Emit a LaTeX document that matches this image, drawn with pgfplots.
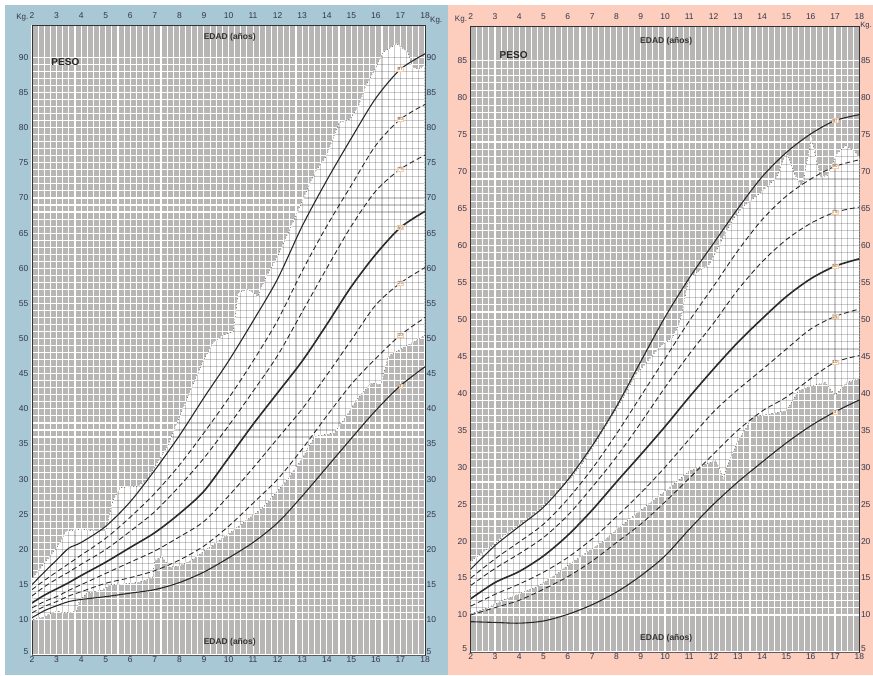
\documentclass[border=0pt]{standalone}
\usepackage{fontspec}
\setmainfont{Liberation Sans}
\usepackage{pgfplots}
\usepackage{pgfplotstable}
\pgfplotsset{compat=1.18}

\definecolor{panelblue}{HTML}{A9C8D5}
\definecolor{panelsalmon}{HTML}{FDCDBD}
\definecolor{plotgray}{HTML}{B8B5B5}
\definecolor{ticktext}{HTML}{33364A}
\definecolor{curve}{HTML}{2A2A2A}

% Boys (left panel)
\pgfplotstableread{
age  p3   p10  p25  p50  p75  p90  p97
2    10.3 11.0 11.7 12.4 13.4 14.3 15.0
2.5  11.3 11.9 12.6 13.5 14.7 15.6 16.8
3    12.0 12.6 13.3 14.4 15.8 16.8 18.5
3.5  12.6 13.4 14.2 15.3 16.8 18.0 20.2
4    12.9 14.0 15.0 16.3 17.9 19.2 21.0
5    13.3 15.2 16.6 18.2 20.0 21.6 23.3
6    13.8 16.0 18.2 20.3 22.6 24.6 26.8
7    14.3 17.0 19.8 22.4 25.4 28.0 31.3
8    15.3 18.5 21.8 25.1 29.0 32.0 36.2
9    16.8 20.5 24.0 28.3 33.0 36.6 41.6
10   18.8 23.3 27.6 33.0 37.6 41.5 46.8
11   21.0 26.6 31.6 37.8 42.5 46.8 52.5
12   23.8 30.0 35.8 42.3 47.6 52.6 58.5
13   27.6 34.3 40.0 46.8 53.8 59.6 66.0
14   31.7 39.0 44.8 52.0 60.0 66.0 72.5
15   35.8 43.5 49.8 57.4 66.0 71.8 78.5
16   39.8 47.2 54.8 62.0 71.0 77.5 84.2
17   43.3 50.5 57.9 65.8 74.1 81.2 88.3
18   46.0 53.0 60.1 68.1 76.1 83.3 90.5
}\boys

% Girls (right panel)
\pgfplotstableread{
age  p3   p10  p25  p50  p75  p90  p97
2    9.1  10.0 11.2 12.2 14.0 15.0 16.2
3    9.0  11.0 12.8 14.4 16.3 17.6 19.4
4    8.9  12.0 14.2 15.9 18.3 19.9 22.0
5    9.2  13.5 15.8 18.0 20.5 22.3 24.6
6    10.1 15.2 17.8 20.8 23.5 25.7 28.3
7    11.4 17.3 20.3 24.2 27.3 29.8 32.9
8    13.1 19.8 23.3 28.0 31.4 34.5 38.2
9    15.3 22.3 26.5 31.7 36.0 39.6 44.3
10   18.0 25.3 30.0 35.5 40.8 44.7 50.3
11   21.6 28.5 33.8 39.5 45.3 49.8 55.6
12   25.0 31.8 37.5 43.3 49.5 54.5 60.3
13   28.0 35.0 40.5 46.9 54.0 59.3 65.0
14   30.7 37.6 43.2 50.1 57.8 63.5 69.3
15   33.3 39.5 46.0 53.1 60.8 66.7 72.6
16   35.6 42.0 48.7 55.5 63.0 69.0 75.1
17   37.5 44.2 50.4 57.2 64.5 70.7 76.9
18   39.1 45.1 51.4 58.2 65.2 71.6 77.7
}\girls

% White (observed) regions, closed polygons
\pgfplotstableread{
x y
2 15.8
2.5 18.0
3 20.2
3.4 22.6
4 22.9
4.6 22.6
5 22.6
5.3 27.0
5.6 28.8
6.3 29.0
6.7 29.8
7 31.8
7.5 34.5
8 38.8
8.5 43.0
9 47.0
9.4 49.5
9.8 50.5
10.2 51.0
10.4 56.5
10.8 57.0
11.2 56.0
11.5 58.5
12 61.7
12.5 65.5
13 69.5
13.5 73.5
14 76.0
14.5 80.7
14.95 81.2
15.3 83.0
15.6 86.0
16 88.5
16.3 90.7
16.85 91.9
17.3 90.7
17.5 88.5
17.7 88.3
18 88.8
18 50.5
17.5 49.5
17 48.5
16.5 47.5
16.2 43.5
15.8 43.7
15.2 41.3
14.8 39.0
14.3 36.6
13.5 36.1
13 33.0
12.4 30.0
11.4 26.0
10.1 22.5
9.5 21.0
9 19.8
8.5 18.5
8 17.7
7.6 17.5
7.3 19.0
7.0 18.5
6.9 16.0
6.5 15.5
6 15.2
5.2 15.0
4.8 14.2
4.2 13.8
3.9 12.5
3.8 11.2
3.3 11.0
3.0 11.3
2.5 10.5
2 10.0
}\boysregion

\pgfplotstableread{
x y
2 17.2
2.5 18.5
3 19.6
3.3 20.6
4 22.2
4.7 23.9
5.4 26.0
6.1 28.4
6.6 30.5
7.2 33.6
7.8 36.8
8.3 39.5
8.8 42.5
9.1 43.6
9.8 46.3
10.3 47.5
10.6 49.4
11.0 55.7
11.4 56.5
11.85 57.5
12.4 61.1
12.8 63.5
13.2 65.2
13.9 67.0
14.6 69.2
15.0 72.6
15.35 69.5
15.65 67.9
16.03 74.4
16.4 69.2
16.7 69.5
17.1 72.5
17.45 73.5
17.8 72.7
18 71.9
18 42.0
17.5 41.5
17.0 39.8
16.6 41.5
16 41.0
15.5 40.4
15 37.7
14.3 37.2
13.6 36.8
12.95 33.2
12.6 30.5
12.4 28.5
12.1 31.0
11 29.5
10.2 27.3
9.5 25.5
8.8 23.7
8 21.6
7.5 20.1
7 19.0
6.1 17.0
5.5 15.5
4.7 13.8
4 12.9
3.3 12.0
2.7 11.0
2 10.2
}\girlsregion

\pgfplotsset{
  base/.style={
    scale only axis, anchor=south west,
    xmin=2, xmax=18, ymin=5,
    xtick={2,...,18},
    minor x tick num=3, minor y tick num=4,
    major tick length=0pt, minor tick length=0pt,
    /pgf/number format/assume math mode=true,
    tick label style={font=\fontsize{8.5}{9}\selectfont, text=ticktext},
    axis line style={draw=black!80, line width=0.9pt},
    clip mode=individual,
    extra y ticks={5},
    extra y tick style={yticklabel style={yshift=3pt}},
  },
  leftgeom/.style={at={(32pt,20pt)}, width=393pt, height=630pt, ymax=94.6, ytick={10,15,...,90}},
  rightgeom/.style={at={(470.7pt,23pt)}, width=388.6pt, height=626pt, ymax=89.7, ytick={10,15,...,85}},
  lowerA/.style={
    axis background/.style={fill=plotgray},
    grid=both,
    grid style={white, line width=1.1pt},
    major grid style={white, line width=1.1pt},
    minor grid style={white, line width=1.1pt},
    xticklabel pos=left, yticklabel pos=left,
    xticklabel style={inner sep=1.5pt},
    yticklabel style={inner sep=1pt, xshift=-2.5pt},
  },
  upperB/.style={
    grid=both,
    grid style={black!80, line width=1.1pt, blend mode=screen},
    major grid style={black!80, line width=1.1pt, blend mode=screen},
    minor grid style={black!80, line width=1.1pt, blend mode=screen},
    xticklabel pos=right, yticklabel pos=right,
    xticklabel style={inner sep=1pt, yshift=5pt},
    yticklabel style={inner sep=1.5pt},
  },
  solidc/.style={smooth, no marks, draw=curve, line width=1.1pt},
  medc/.style={smooth, no marks, draw=curve, line width=1.6pt},
  dashc/.style={smooth, no marks, draw=curve, line width=0.9pt, dash pattern=on 5pt off 3pt},
  edgec/.style={no marks, draw=white, line width=1.1pt, dash pattern=on 1.5pt off 1.5pt},
}
\tikzset{
  plab/.style={font=\fontsize{4.5}{5}\selectfont, text=black!70, fill=white, inner sep=0.4pt, draw=orange!40, line width=0.3pt},
  kglab/.style={font=\fontsize{8}{9}\selectfont, text=ticktext, inner sep=0pt},
}

\begin{document}
\begin{tikzpicture}
\useasboundingbox (0pt,0pt) rectangle (873pt,675pt);
\clip (0pt,0pt) rectangle (873pt,675pt);
\fill[white] (0pt,0pt) rectangle (873pt,675pt);
\fill[panelblue] (5pt,0pt) rectangle (448pt,670pt);
\fill[panelsalmon] (448pt,0pt) rectangle (873pt,670pt);

% ---------- Left panel (boys) ----------
\begin{axis}[base, leftgeom, lowerA, name=L]
\addplot[fill=black, draw=none] table[x=x, y=y] {\boysregion} -- cycle;
\end{axis}
\begin{axis}[base, leftgeom, upperB]
\addplot[fill=white, draw=none, blend mode=difference] table[x=x, y=y] {\boysregion} -- cycle;
\addplot[edgec] table[x=x, y=y] {\boysregion} -- cycle;
\addplot[dashc] table[x=age, y=p10] {\boys};
\addplot[dashc] table[x=age, y=p25] {\boys};
\addplot[dashc] table[x=age, y=p75] {\boys};
\addplot[dashc] table[x=age, y=p90] {\boys};
\addplot[solidc] table[x=age, y=p3] {\boys};
\addplot[medc] table[x=age, y=p50] {\boys};
\addplot[solidc] table[x=age, y=p97] {\boys};
\node[plab] at (axis cs:17,88.3) {97};
\node[plab] at (axis cs:17,81.2) {90};
\node[plab] at (axis cs:17,74.1) {75};
\node[plab] at (axis cs:17,65.8) {50};
\node[plab] at (axis cs:17,57.9) {25};
\node[plab] at (axis cs:17,50.5) {10};
\node[plab] at (axis cs:17,43.3) {3};
\node[font=\bfseries\fontsize{10}{11}\selectfont, text=black!85, anchor=west] at (axis cs:2.65,89.3) {PESO};
\node[font=\bfseries\fontsize{8.5}{9}\selectfont, text=black!80] at (axis cs:10.05,92.8) {EDAD (años)};
\node[font=\bfseries\fontsize{8.5}{9}\selectfont, text=black!80] at (axis cs:10.05,6.8) {EDAD (años)};
\end{axis}
\node[kglab, anchor=east] at ([xshift=-3.5pt, yshift=7pt]L.north west) {Kg.};
\node[kglab, anchor=west] at ([xshift=5pt, yshift=4pt]L.north east) {Kg.};

% ---------- Right panel (girls) ----------
\begin{axis}[base, rightgeom, lowerA, name=R]
\addplot[fill=black, draw=none] table[x=x, y=y] {\girlsregion} -- cycle;
\end{axis}
\begin{axis}[base, rightgeom, upperB]
\addplot[fill=white, draw=none, blend mode=difference] table[x=x, y=y] {\girlsregion} -- cycle;
\addplot[edgec] table[x=x, y=y] {\girlsregion} -- cycle;
\addplot[dashc] table[x=age, y=p10] {\girls};
\addplot[dashc] table[x=age, y=p25] {\girls};
\addplot[dashc] table[x=age, y=p75] {\girls};
\addplot[dashc] table[x=age, y=p90] {\girls};
\addplot[solidc] table[x=age, y=p3] {\girls};
\addplot[medc] table[x=age, y=p50] {\girls};
\addplot[solidc] table[x=age, y=p97] {\girls};
\node[plab] at (axis cs:17,76.9) {97};
\node[plab] at (axis cs:17,70.7) {90};
\node[plab] at (axis cs:17,64.5) {75};
\node[plab] at (axis cs:17,57.2) {50};
\node[plab] at (axis cs:17,50.4) {25};
\node[plab] at (axis cs:17,44.2) {10};
\node[plab] at (axis cs:17,37.5) {3};
\node[font=\bfseries\fontsize{10}{11}\selectfont, text=black!85, anchor=west] at (axis cs:3.05,85.8) {PESO};
\node[font=\bfseries\fontsize{8.5}{9}\selectfont, text=black!80] at (axis cs:10.05,87.6) {EDAD (años)};
\node[font=\bfseries\fontsize{8.5}{9}\selectfont, text=black!80] at (axis cs:10.05,6.8) {EDAD (años)};
\end{axis}
\node[kglab, anchor=east] at ([xshift=-3.5pt, yshift=6pt]R.north west) {Kg.};
\node[font=\fontsize{7.6}{8}\selectfont, text=ticktext, inner sep=0pt, anchor=west] at ([xshift=0.8pt, yshift=0.5pt]R.north east) {Kg.};
\end{tikzpicture}
\end{document}
